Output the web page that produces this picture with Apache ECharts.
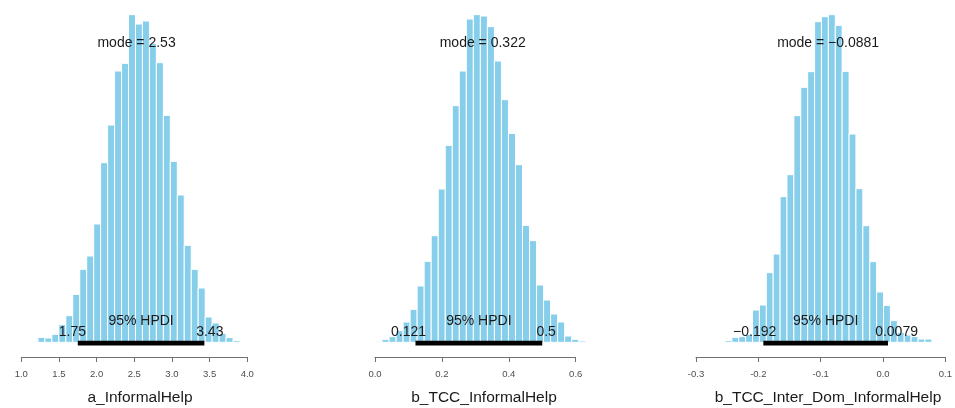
<!DOCTYPE html>
<html>
<head>
<meta charset="utf-8">
<script src="https://cdn.jsdelivr.net/npm/echarts@6/dist/echarts.min.js"></script>
<style>
html,body{margin:0;padding:0;background:#fff;}
#chart{width:955px;height:408px;}
</style>
</head>
<body>
<div id="chart"></div>
<script>
// ---------- data ----------
var titles = ['a_InformalHelp', 'b_TCC_InformalHelp', 'b_TCC_Inter_Dom_InformalHelp'];

var edgesA = [1.128, 1.221, 1.313, 1.406, 1.498, 1.591, 1.683, 1.776, 1.868, 1.961, 2.053, 2.146, 2.238, 2.331, 2.423, 2.516, 2.608, 2.701, 2.793, 2.886, 2.978, 3.071, 3.163, 3.256, 3.348, 3.441, 3.533, 3.626, 3.718, 3.811, 3.903, 3.996];
var heightsA = [2, 15, 13, 24, 53, 80, 144, 219, 259, 355, 539, 652, 814, 837, 983, 955, 964, 897, 839, 681, 543, 442, 291, 219, 163, 76, 58, 27, 14, 5, 1];

var edgesB = [0.000, 0.021, 0.042, 0.063, 0.084, 0.105, 0.126, 0.147, 0.168, 0.189, 0.210, 0.231, 0.252, 0.273, 0.294, 0.315, 0.336, 0.357, 0.378, 0.399, 0.420, 0.441, 0.462, 0.483, 0.504, 0.525, 0.546, 0.567, 0.588, 0.609, 0.630];
var heightsB = [3, 9, 17, 35, 61, 99, 169, 243, 320, 460, 591, 710, 814, 970, 983, 979, 947, 844, 728, 627, 533, 351, 305, 172, 127, 85, 61, 19, 9, 4];

var edgesC = [-0.2536, -0.2425, -0.2315, -0.2204, -0.2094, -0.1983, -0.1872, -0.1762, -0.1651, -0.1541, -0.1430, -0.1319, -0.1209, -0.1098, -0.0988, -0.0877, -0.0766, -0.0656, -0.0545, -0.0435, -0.0324, -0.0213, -0.0103, 0.0008, 0.0118, 0.0229, 0.0340, 0.0450, 0.0561, 0.0671, 0.0782];
var heightsC = [5, 15, 17, 24, 97, 112, 209, 265, 437, 503, 680, 765, 812, 962, 977, 983, 951, 813, 625, 461, 350, 242, 151, 111, 65, 30, 22, 17, 10, 10];

var modes = [2.53, 0.322, -0.0881];
var modeTexts = ['2.53', '0.322', '\u22120.0881'];
var hdiLow = [1.75, 0.121, -0.192];
var hdiHigh = [3.43, 0.5, 0.0079];
var hdiLowTexts = ['1.75', '0.121', '\u22120.192'];
var hdiHighTexts = ['3.43', '0.5', '0.0079'];

var axisMin = [1.0, 0.0, -0.3];
var axisMax = [4.0, 0.6, 0.1];
var axisInterval = [0.5, 0.2, 0.1];

// ---------- layout ----------
var FONT = '"Liberation Sans", Arial, Helvetica, sans-serif';
var gridLeft = [21.3, 375, 696];
var gridWidth = [226, 200.7, 250];
var titleX = [140, 484, 828];

var measureCtx = document.createElement('canvas').getContext('2d');
function textWidth(t, size) {
  measureCtx.font = size + 'px ' + FONT;
  return measureCtx.measureText(t).width;
}

function buildBins(edges, heights) {
  var out = [];
  for (var i = 0; i < heights.length; i++) out.push([edges[i], edges[i + 1], heights[i]]);
  return out;
}
var binSets = [buildBins(edgesA, heightsA), buildBins(edgesB, heightsB), buildBins(edgesC, heightsC)];

function renderBar(params, api) {
  var p0 = api.coord([api.value(0), 0]);
  var p1 = api.coord([api.value(1), api.value(2)]);
  return {
    type: 'rect',
    shape: { x: p0[0], y: p1[1], width: p1[0] - p0[0], height: p0[1] - p1[1] },
    style: { fill: '#87CEEB', stroke: '#ffffff', lineWidth: 1 }
  };
}

function makeAnnot(k) {
  return function (params, api) {
    var lo = api.coord([hdiLow[k], 0]);
    var hi = api.coord([hdiHigh[k], 0]);
    var md = api.coord([modes[k], 0]);
    var base = lo[1];
    var wL = textWidth(hdiLowTexts[k], 14);
    var wH = textWidth(hdiHighTexts[k], 14);
    return {
      type: 'group',
      children: [
        { type: 'rect', shape: { x: lo[0], y: base - 1.6, width: hi[0] - lo[0], height: 4.8 }, style: { fill: '#000' } },
        { type: 'text', x: md[0], y: base - 299.5, style: { text: 'mode = ' + modeTexts[k], fontSize: 14, fontFamily: FONT, fill: '#1a1a1a', align: 'center', verticalAlign: 'middle' } },
        { type: 'text', x: (lo[0] + hi[0]) / 2, y: base - 21.5, style: { text: '95% HPDI', fontSize: 14, fontFamily: FONT, fill: '#1a1a1a', align: 'center', verticalAlign: 'middle' } },
        { type: 'text', x: lo[0] - 0.7 * wL, y: base - 3, style: { text: hdiLowTexts[k], fontSize: 14, fontFamily: FONT, fill: '#1a1a1a', align: 'left', verticalAlign: 'bottom' } },
        { type: 'text', x: hi[0] - 0.3 * wH, y: base - 3, style: { text: hdiHighTexts[k], fontSize: 14, fontFamily: FONT, fill: '#1a1a1a', align: 'left', verticalAlign: 'bottom' } }
      ]
    };
  };
}

var grids = [], xAxes = [], yAxes = [], series = [], graphics = [];
for (var k = 0; k < 3; k++) {
  grids.push({ left: gridLeft[k], width: gridWidth[k], top: 9, bottom: 51, containLabel: false });
  xAxes.push({
    type: 'value', gridIndex: k, min: axisMin[k], max: axisMax[k], interval: axisInterval[k],
    splitLine: { show: false },
    axisLine: { show: true, onZero: false, lineStyle: { color: '#707070', width: 1 } },
    axisTick: { show: true, inside: false, length: 5, lineStyle: { color: '#707070', width: 1 } },
    axisLabel: { color: '#4d4d4d', fontSize: 9.5, fontFamily: FONT, margin: 12,
      formatter: function (v) { return v.toFixed(1); } }
  });
  yAxes.push({ type: 'value', gridIndex: k, min: -44, max: 1000, show: false, splitLine: { show: false } });
  series.push({
    type: 'custom', xAxisIndex: k, yAxisIndex: k, clip: false, silent: true,
    renderItem: renderBar, encode: { x: [0, 1], y: 2 }, data: binSets[k], z: 2
  });
  series.push({
    type: 'custom', xAxisIndex: k, yAxisIndex: k, clip: false, silent: true,
    renderItem: makeAnnot(k), data: [[hdiLow[k], hdiHigh[k], modes[k]]], z: 3
  });
  graphics.push({
    type: 'text', x: titleX[k], y: 398,
    style: { text: titles[k], fontSize: 15.5, fontFamily: FONT, fill: '#1a1a1a', align: 'center', verticalAlign: 'middle' }
  });
}

var chart = echarts.init(document.getElementById('chart'), null, { renderer: 'canvas' });
chart.setOption({
  animation: false,
  backgroundColor: '#ffffff',
  grid: grids,
  xAxis: xAxes,
  yAxis: yAxes,
  series: series,
  graphic: graphics
});
</script>
</body>
</html>
